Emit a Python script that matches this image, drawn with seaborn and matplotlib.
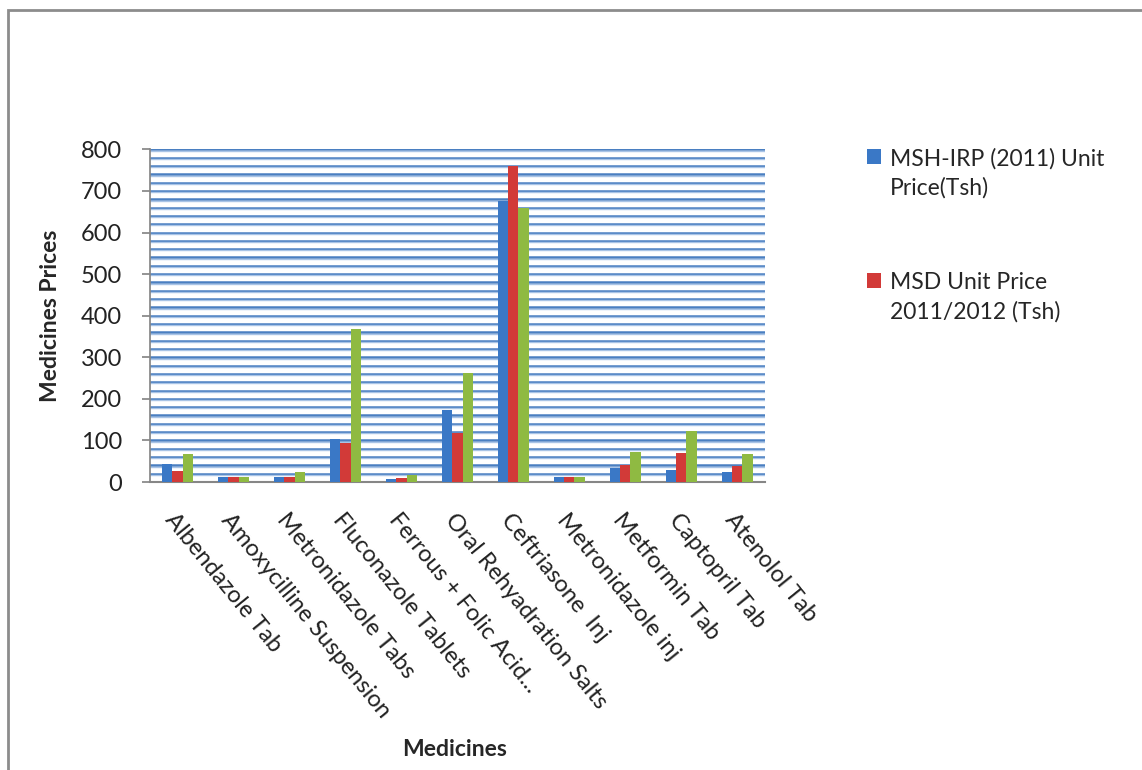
import matplotlib
matplotlib.use('Agg')
import matplotlib.pyplot as plt
from matplotlib.patches import Patch, Rectangle
from matplotlib.legend_handler import HandlerPatch
import seaborn as sns
import pandas as pd
import numpy as np

sns.set_theme(style='white')
plt.rcParams['font.family'] = ['Lato', 'DejaVu Sans']

# 데이터
medicines = ['Albendazole Tab', 'Amoxycilline Suspension', 'Metronidazole Tabs',
             'Fluconazole Tablets', 'Ferrous + Folic Acid...', 'Oral Rehyadration Salts',
             'Ceftriasone  Inj', 'Metronidazole inj', 'Metformin Tab', 'Captopril Tab',
             'Atenolol Tab']
msh_irp = [44, 12, 12, 103, 8, 173, 677, 11, 34, 28, 23]
msd_price = [26, 12, 11, 95, 10, 119, 760, 11, 40, 70, 39]
third_price = [68, 12, 24, 368, 16, 261, 660, 12, 72, 123, 68]
series_names = ['MSH-IRP (2011) Unit\nPrice(Tsh)', 'MSD Unit Price\n2011/2012 (Tsh)', 'Series3']
colors = ['#3a78c6', '#d23a38', '#8fba42']

df = pd.DataFrame({'Medicine': medicines * 3,
                   'Price': msh_irp + msd_price + third_price,
                   'Series': [series_names[0]] * 11 + [series_names[1]] * 11 + [series_names[2]] * 11})


# 범례 마커를 첫 줄 높이로 올리기
class UpperPatchHandler(HandlerPatch):
    def create_artists(self, legend, orig_handle, xdescent, ydescent, width, height,
                       fontsize, trans):
        shift = 0.75 * fontsize
        p = Rectangle((-xdescent, -ydescent + shift), width, height,
                      facecolor=orig_handle.get_facecolor(), edgecolor='none',
                      transform=trans)
        return [p]


fig = plt.figure(figsize=(11.42, 7.7), dpi=100)
ax = fig.add_axes([0.131, 0.374, 0.539, 0.432])

# 바탕 격자 (20 단위)
for y in np.arange(20, 801, 20):
    ax.axhline(y, color='#4a7fc1', lw=1.8, zorder=0)
    ax.axhline(y - 3, color='#a9c4e6', lw=1.0, zorder=0)

sns.barplot(data=df, x='Medicine', y='Price', hue='Series', palette=colors,
            width=0.55, dodge=True, saturation=1, ax=ax, legend=False,
            edgecolor='none', zorder=3)

ax.set_ylim(0, 800)
ax.set_xlim(-0.5, 10.5)
ax.set_yticks(range(0, 801, 100))
ax.tick_params(axis='y', labelsize=17, length=6, color='#868686', direction='out',
               left=True, pad=14, labelcolor='#222222')
ax.tick_params(axis='x', length=0, pad=20)
ax.set_xticks(range(len(medicines)))
ax.set_xticklabels(medicines, rotation=-51, ha='left', va='top', rotation_mode='anchor',
                   fontsize=17, color='#222222')

for s in ['top', 'right']:
    ax.spines[s].set_visible(False)
ax.spines['left'].set_color('#868686')
ax.spines['bottom'].set_color('#868686')
ax.spines['bottom'].set_linewidth(1.5)

ax.set_xlabel('')
ax.set_ylabel('Medicines Prices', fontsize=16.5, fontweight='bold', labelpad=14)
fig.text(0.398, 0.026, 'Medicines', fontsize=16.5, fontweight='bold', ha='center', va='center')

# 범례 (두 항목만 보임)
handles = [Patch(facecolor=colors[0]), Patch(facecolor=colors[1])]
leg = fig.legend(handles, series_names[:2], loc='upper left', bbox_to_anchor=(0.741, 0.835),
                 frameon=False, fontsize=16.5, labelspacing=3.2, handlelength=0.6,
                 handleheight=0.6, handletextpad=0.4,
                 handler_map={Patch: UpperPatchHandler()})
for t in leg.get_texts():
    t.set_linespacing(1.45)

# 외곽선
fig.patches.append(Rectangle((0.007, -0.1), 1.1, 1.087, transform=fig.transFigure,
                             fill=False, edgecolor='#8c8c8c', lw=2))

fig.savefig('out.png', dpi=100)
